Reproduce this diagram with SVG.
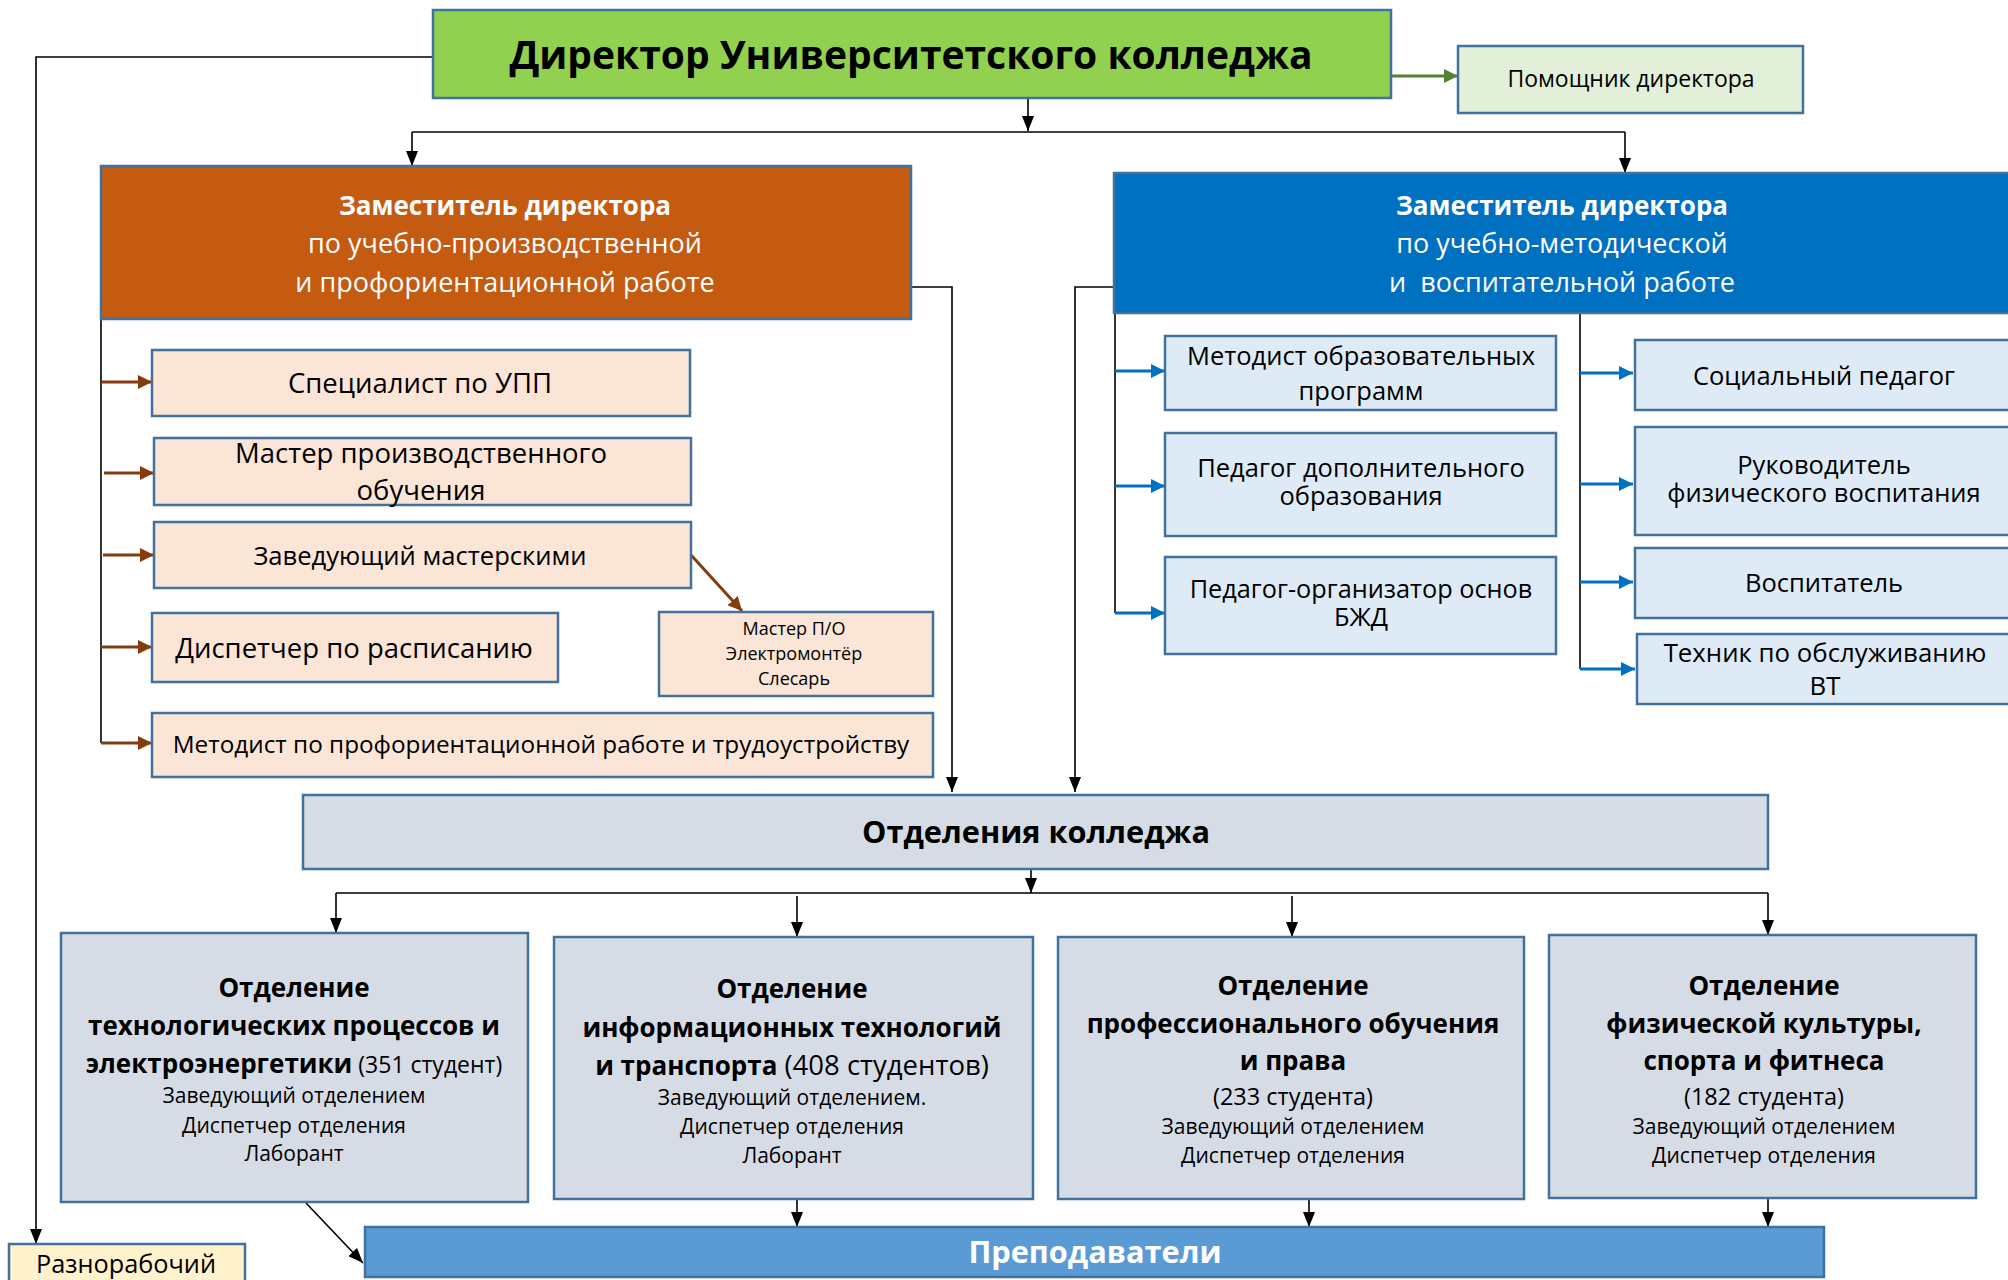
<svg xmlns="http://www.w3.org/2000/svg" width="2008" height="1280" viewBox="0 0 2008 1280">
<defs>
<style>
.box{stroke:#41719C;stroke-width:2.5}
.t{font-family:"Open Sans","Noto Sans",sans-serif;text-anchor:middle;fill:#000}
.b{font-weight:bold}
.n{font-weight:normal}
.w{fill:#fff}
.c{fill:none;stroke:#000;stroke-width:1.6}
.ca{fill:none;stroke:#000;stroke-width:1.6;marker-end:url(#ab)}
.br{fill:none;stroke:#843C0C;stroke-width:3;marker-end:url(#abr)}
.bl{fill:none;stroke:#0070C0;stroke-width:3;marker-end:url(#abl)}
.gr{fill:none;stroke:#548235;stroke-width:3;marker-end:url(#agr)}
.peach{fill:#FBE5D6}
.lb{fill:#DEEBF7}
.dep{fill:#D6DCE5}
</style>
<marker id="ab" viewBox="0 0 15 12" refX="15" refY="6" markerWidth="15" markerHeight="12" markerUnits="userSpaceOnUse" orient="auto"><path d="M0,0 L15,6 L0,12z" fill="#000"/></marker>
<marker id="abr" viewBox="0 0 14 14" refX="14" refY="7" markerWidth="14" markerHeight="14" markerUnits="userSpaceOnUse" orient="auto"><path d="M0,0 L14,7 L0,14z" fill="#843C0C"/></marker>
<marker id="abl" viewBox="0 0 14 14" refX="14" refY="7" markerWidth="14" markerHeight="14" markerUnits="userSpaceOnUse" orient="auto"><path d="M0,0 L14,7 L0,14z" fill="#0070C0"/></marker>
<marker id="agr" viewBox="0 0 14 14" refX="14" refY="7" markerWidth="14" markerHeight="14" markerUnits="userSpaceOnUse" orient="auto"><path d="M0,0 L14,7 L0,14z" fill="#548235"/></marker>
</defs>
<rect width="2008" height="1280" fill="#fff"/>

<g id="connectors">
<path class="ca" d="M433,57 H36 V1244"/>
<path class="ca" d="M1028,98 V131"/>
<path class="c" d="M412,132 H1625" stroke="#404040"/>
<path class="ca" d="M412,132 V166"/>
<path class="ca" d="M1625,132 V173"/>
<path class="ca" d="M911,287 H952 V792"/>
<path class="ca" d="M1114,287 H1075 V792"/>
<path class="c" d="M101,319 V743"/>
<path class="br" d="M101,382 H152"/>
<path class="br" d="M104,473 H154"/>
<path class="br" d="M103,555 H154"/>
<path class="br" d="M101,647 H152"/>
<path class="br" d="M101,743 H152"/>
<path class="br" d="M691,555 L742,611"/>
<path class="c" d="M1115,313 V613"/>
<path class="bl" d="M1115,371 H1165"/>
<path class="bl" d="M1115,486 H1165"/>
<path class="bl" d="M1115,613 H1165"/>
<path class="c" d="M1580,313 V669"/>
<path class="bl" d="M1580,373 H1633"/>
<path class="bl" d="M1580,484 H1633"/>
<path class="bl" d="M1580,582 H1633"/>
<path class="bl" d="M1580,669 H1635"/>
<path class="gr" d="M1391,76 H1458"/>
<path class="ca" d="M1031,869 V893"/>
<path class="c" d="M336,893 H1768"/>
<path class="ca" d="M336,893 V933"/>
<path class="ca" d="M797,896 V937"/>
<path class="ca" d="M1292,896 V937"/>
<path class="ca" d="M1768,893 V935"/>
<path class="ca" d="M797,1200 V1227"/>
<path class="ca" d="M1309,1200 V1227"/>
<path class="ca" d="M1768,1199 V1227"/>
<path class="ca" d="M306,1203 L363,1263"/>
</g>

<g id="director">
<rect class="box" x="433" y="10" width="958" height="88" fill="#92D050"/>
<text class="t b" x="911" y="69" font-size="39">Директор Университетского колледжа</text>
</g>
<g id="assistant">
<rect class="box" x="1458" y="46" width="345" height="67" fill="#E2F0D9"/>
<text class="t" x="1631" y="87" font-size="23">Помощник директора</text>
</g>
<g id="deputy1">
<rect class="box" x="101" y="166" width="810" height="153" fill="#C55A11"/>
<text class="t w b" x="505" y="215" font-size="26">Заместитель директора</text>
<text class="t w" x="505" y="253" font-size="27">по учебно-производственной</text>
<text class="t w" x="505" y="292" font-size="27">и профориентационной работе</text>
</g>
<g id="deputy2">
<rect class="box" x="1114" y="173" width="905" height="140" fill="#0070C0"/>
<text class="t w b" x="1562" y="215" font-size="26">Заместитель директора</text>
<text class="t w" x="1562" y="253" font-size="27">по учебно-методической</text>
<text class="t w" x="1562" y="292" font-size="27" xml:space="preserve">и  воспитательной работе</text>
</g>

<g id="upp">
<rect class="box peach" x="152" y="350" width="538" height="66"/>
<text class="t" x="420" y="393" font-size="27.5">Специалист по УПП</text>
</g>
<g id="master">
<rect class="box peach" x="154" y="438" width="537" height="67"/>
<text class="t" x="421" y="463" font-size="27.5">Мастер производственного</text>
<text class="t" x="421" y="500" font-size="27.5">обучения</text>
</g>
<g id="workshops">
<rect class="box peach" x="154" y="522" width="537" height="66"/>
<text class="t" x="420" y="565" font-size="25.6">Заведующий мастерскими</text>
</g>
<g id="dispatcher">
<rect class="box peach" x="152" y="613" width="406" height="69"/>
<text class="t" x="354" y="658" font-size="27.5">Диспетчер по расписанию</text>
</g>
<g id="masterpo">
<rect class="box peach" x="659" y="612" width="274" height="84"/>
<text class="t" x="794" y="635" font-size="18">Мастер П/О</text>
<text class="t" x="794" y="660" font-size="18">Электромонтёр</text>
<text class="t" x="794" y="685" font-size="18">Слесарь</text>
</g>
<g id="metodist-prof">
<rect class="box peach" x="152" y="713" width="781" height="64"/>
<text class="t" x="541" y="753" font-size="24.3">Методист по профориентационной работе и трудоустройству</text>
</g>

<g id="metodist-op">
<rect class="box lb" x="1165" y="336" width="391" height="74"/>
<text class="t" x="1361" y="365" font-size="25.5">Методист образовательных</text>
<text class="t" x="1361" y="400" font-size="25.5">программ</text>
</g>
<g id="pedagog-do">
<rect class="box lb" x="1165" y="433" width="391" height="103"/>
<text class="t" x="1361" y="477" font-size="25.5">Педагог дополнительного</text>
<text class="t" x="1361" y="505" font-size="25.5">образования</text>
</g>
<g id="pedagog-bzhd">
<rect class="box lb" x="1165" y="557" width="391" height="97"/>
<text class="t" x="1361" y="598" font-size="25.3">Педагог-организатор основ</text>
<text class="t" x="1361" y="626" font-size="25.3">БЖД</text>
</g>
<g id="social">
<rect class="box lb" x="1635" y="340" width="390" height="70"/>
<text class="t" x="1824" y="385" font-size="25.5">Социальный педагог</text>
</g>
<g id="phys">
<rect class="box lb" x="1635" y="427" width="390" height="108"/>
<text class="t" x="1824" y="474" font-size="25.5">Руководитель</text>
<text class="t" x="1824" y="502" font-size="25.5">физического воспитания</text>
</g>
<g id="vospitatel">
<rect class="box lb" x="1635" y="548" width="390" height="70"/>
<text class="t" x="1824" y="592" font-size="25.5">Воспитатель</text>
</g>
<g id="tehnik">
<rect class="box lb" x="1637" y="634" width="390" height="70"/>
<text class="t" x="1825" y="662" font-size="25.8">Техник по обслуживанию</text>
<text class="t" x="1825" y="695" font-size="25.8">ВТ</text>
</g>

<g id="otdeleniya">
<rect class="box dep" x="303" y="795" width="1465" height="74"/>
<text class="t b" x="1036" y="843" font-size="30.7">Отделения колледжа</text>
</g>

<g id="dept1">
<rect class="box dep" x="61" y="933" width="467" height="269"/>
<text class="t b" x="294" y="997" font-size="26">Отделение</text>
<text class="t b" x="294" y="1035" font-size="26">технологических процессов и</text>
<text class="t b" x="294" y="1073" font-size="26">электроэнергетики<tspan class="n" font-size="23"> (351 студент)</tspan></text>
<text class="t" x="294" y="1103" font-size="21">Заведующий отделением</text>
<text class="t" x="294" y="1133" font-size="21">Диспетчер отделения</text>
<text class="t" x="294" y="1161" font-size="21">Лаборант</text>
</g>
<g id="dept2">
<rect class="box dep" x="554" y="937" width="479" height="262"/>
<text class="t b" x="792" y="998" font-size="26">Отделение</text>
<text class="t b" x="792" y="1037" font-size="26">информационных технологий</text>
<text class="t b" x="792" y="1075" font-size="26">и транспорта<tspan class="n" font-size="27.5"> (408 студентов)</tspan></text>
<text class="t" x="792" y="1105" font-size="21">Заведующий отделением.</text>
<text class="t" x="792" y="1134" font-size="21">Диспетчер отделения</text>
<text class="t" x="792" y="1163" font-size="21">Лаборант</text>
</g>
<g id="dept3">
<rect class="box dep" x="1058" y="937" width="466" height="262"/>
<text class="t b" x="1293" y="995" font-size="26">Отделение</text>
<text class="t b" x="1293" y="1033" font-size="26">профессионального обучения</text>
<text class="t b" x="1293" y="1070" font-size="26">и права</text>
<text class="t" x="1293" y="1105" font-size="23.5">(233 студента)</text>
<text class="t" x="1293" y="1134" font-size="21">Заведующий отделением</text>
<text class="t" x="1293" y="1163" font-size="21">Диспетчер отделения</text>
</g>
<g id="dept4">
<rect class="box dep" x="1549" y="935" width="427" height="263"/>
<text class="t b" x="1764" y="995" font-size="26">Отделение</text>
<text class="t b" x="1764" y="1033" font-size="26">физической культуры,</text>
<text class="t b" x="1764" y="1070" font-size="26">спорта и фитнеса</text>
<text class="t" x="1764" y="1105" font-size="23.5">(182 студента)</text>
<text class="t" x="1764" y="1134" font-size="21">Заведующий отделением</text>
<text class="t" x="1764" y="1163" font-size="21">Диспетчер отделения</text>
</g>

<g id="teachers">
<rect class="box" x="365" y="1227" width="1459" height="50" fill="#5B9BD5"/>
<text class="t b w" x="1095" y="1263" font-size="30.7">Преподаватели</text>
</g>
<g id="worker">
<rect class="box" x="9" y="1244" width="236" height="50" fill="#FFF2CC"/>
<text class="t" x="126" y="1273" font-size="25.3">Разнорабочий</text>
</g>
</svg>
